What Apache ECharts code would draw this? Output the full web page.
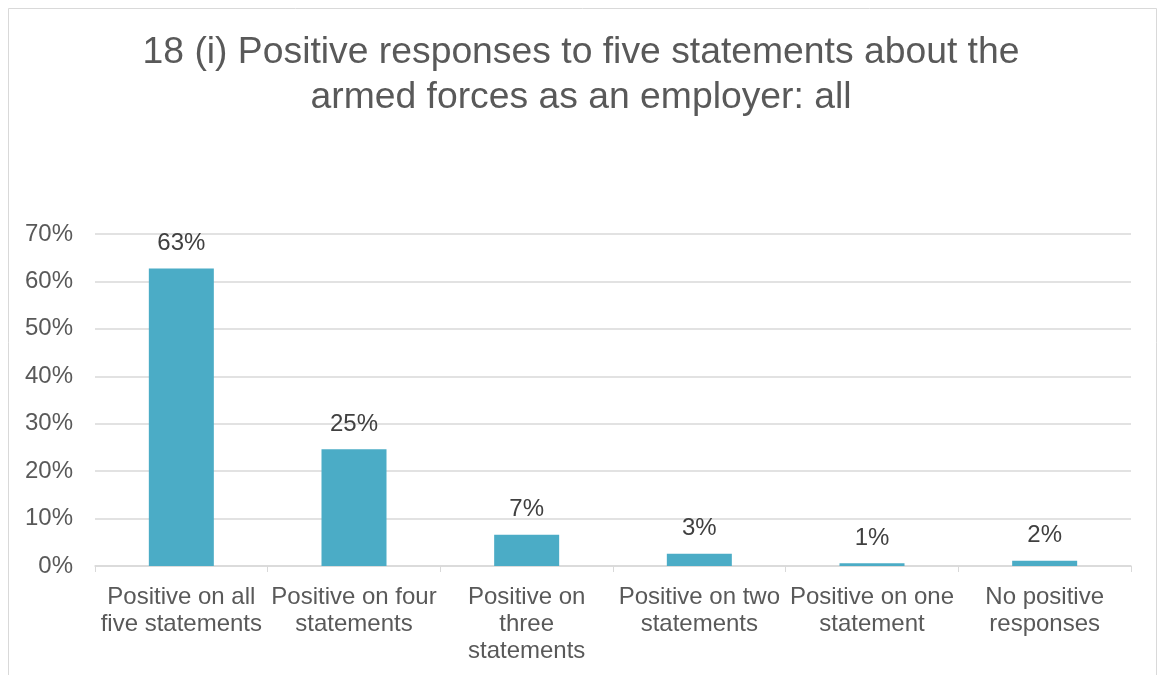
<!DOCTYPE html>
<html><head><meta charset="utf-8">
<script src="https://cdn.jsdelivr.net/npm/echarts@6/dist/echarts.min.js"></script>
<style>html,body{margin:0;padding:0;background:#fff}#c{width:1162px;height:675px}</style>
</head><body><div id="c"></div>
<script>
const categories = ["Positive on all\nfive statements","Positive on four\nstatements","Positive on\nthree\nstatements","Positive on two\nstatements","Positive on one\nstatement","No positive\nresponses"];
const values = [62.7, 24.6, 6.6, 2.6, 0.6, 1.1];
const valueLabels = ["63%","25%","7%","3%","1%","2%"];
const titleText = "18 (i) Positive responses to five statements about the\narmed forces as an employer: all";

const chart = echarts.init(document.getElementById('c'), null, {renderer:'canvas'});
chart.setOption({
  animation:false,
  backgroundColor:'#fff',
  graphic:[{type:'rect',shape:{x:8.5,y:8.5,width:1148,height:700},style:{fill:'none',stroke:'#d9d9d9',lineWidth:1}}],
  title:{text:titleText,left:'center',top:25,textStyle:{fontFamily:'Liberation Sans',fontSize:37.3,fontWeight:'normal',color:'#595959',lineHeight:45}},
  grid:{left:95,right:31,top:234,bottom:109,containLabel:false},
  xAxis:{type:'category',data:categories,
    axisLine:{lineStyle:{color:'#d9d9d9',width:1.5}},
    axisTick:{show:true,length:6,lineStyle:{color:'#d9d9d9'}},
    axisLabel:{interval:0,fontFamily:'Liberation Sans',fontSize:24,color:'#595959',lineHeight:27,margin:18}},
  yAxis:{type:'value',min:0,max:70,interval:10,
    axisLine:{show:false},axisTick:{show:false},
    splitLine:{lineStyle:{color:'#d9d9d9',width:1.5}},
    axisLabel:{formatter:'{value}%',fontFamily:'Liberation Sans',fontSize:24,color:'#595959',margin:22}},
  series:[{type:'bar',data:values,barWidth:65,itemStyle:{color:'#4bacc6'},
    label:{show:true,position:'top',distance:13,fontFamily:'Liberation Sans',fontSize:24,color:'#404040',
      formatter:p=>valueLabels[p.dataIndex]}}]
});
</script></body></html>
